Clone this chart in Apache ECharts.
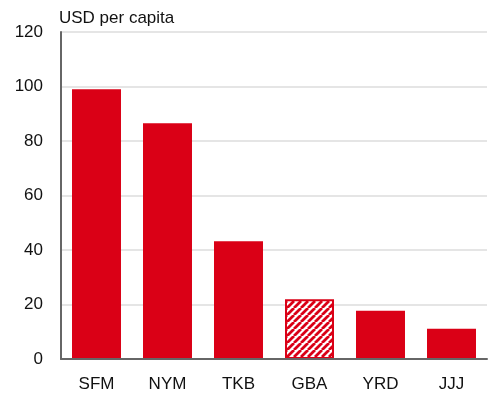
<!DOCTYPE html>
<html>
<head>
<meta charset="utf-8">
<script src="https://cdn.jsdelivr.net/npm/echarts@6/dist/echarts.min.js"></script>
<style>
  html, body { margin: 0; padding: 0; background: #fff; }
  #chart { width: 493px; height: 401px; }
</style>
</head>
<body>
<div id="chart"></div>
<script>
const categories = ['SFM', 'NYM', 'TKB', 'GBA', 'YRD', 'JJJ']
const values = [99, 86.5, 43.2, 21.9, 17.7, 11.1]
const hatched = ['GBA']

const RED = '#da0016'
const FONT = '"Liberation Sans", Arial, sans-serif'

// diagonal hatch tile for the highlighted bar
function hatchPattern() {
  const size = 7
  const c = document.createElement('canvas')
  c.width = size
  c.height = size
  const ctx = c.getContext('2d')
  ctx.fillStyle = '#fff'
  ctx.fillRect(0, 0, size, size)
  ctx.strokeStyle = RED
  ctx.lineWidth = 2.8
  ctx.beginPath()
  for (let k = -1; k <= 1; k++) {
    ctx.moveTo(k * size, size)
    ctx.lineTo(k * size + size, 0)
  }
  ctx.stroke()
  return c
}

const pattern = { image: hatchPattern(), repeat: 'repeat' }

const barData = values.map((v, i) => {
  if (hatched.indexOf(categories[i]) >= 0) {
    return {
      value: v,
      itemStyle: { color: pattern, borderColor: RED, borderWidth: 2 }
    }
  }
  return v
})

const myChart = echarts.init(document.getElementById('chart'), null, { renderer: 'canvas' })
myChart.setOption({
  animation: false,
  textStyle: { fontFamily: FONT },
  title: {
    text: 'USD per capita',
    left: 54,
    top: 5,
    textStyle: { fontSize: 17, fontWeight: 'normal', color: '#111', fontFamily: FONT }
  },
  grid: { left: 61, right: 6, top: 32, bottom: 42 },
  xAxis: {
    type: 'category',
    data: categories,
    axisLine: { show: true, lineStyle: { color: '#666', width: 2 } },
    axisTick: { show: false },
    axisLabel: { fontSize: 17, color: '#111', margin: 17, fontFamily: FONT },
    z: 10
  },
  yAxis: {
    type: 'value',
    min: 0,
    max: 120,
    interval: 20,
    axisLine: { show: true, lineStyle: { color: '#666', width: 2 } },
    axisTick: { show: false },
    splitLine: { lineStyle: { color: '#dcdcdc', width: 1.5 } },
    axisLabel: { fontSize: 17, color: '#111', margin: 18, fontFamily: FONT }
  },
  series: [
    {
      type: 'bar',
      data: barData,
      barCategoryGap: '31%',
      itemStyle: { color: RED }
    }
  ]
})
</script>
</body>
</html>
